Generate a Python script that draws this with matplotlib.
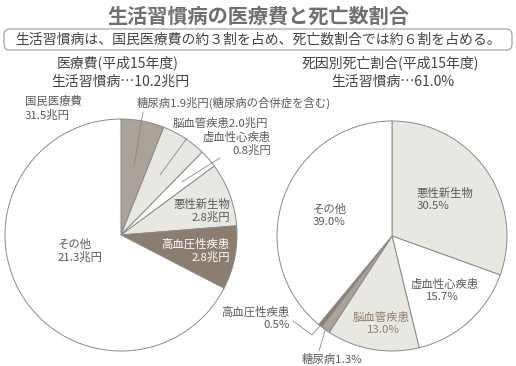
import numpy as np
import matplotlib
matplotlib.use("Agg")
import matplotlib.pyplot as plt
from matplotlib.patches import FancyBboxPatch

plt.rcParams['font.family'] = ['Noto Sans CJK JP', 'DejaVu Sans']

# Data
title = "生活習慣病の医療費と死亡数割合"
subtitle = "生活習慣病は、国民医療費の約３割を占め、死亡数割合では約６割を占める。"

left_title = "医療費(平成15年度)"
left_total_label = "国民医療費"
left_total = 31.5
left_lifestyle = 10.2
left_labels = ["糖尿病", "脳血管疾患", "虚血性心疾患", "悪性新生物", "高血圧性疾患", "その他"]
left_values = [1.9, 2.0, 0.8, 2.8, 2.8, 21.3]

right_title = "死因別死亡割合(平成15年度)"
right_lifestyle = 61.0
right_labels = ["悪性新生物", "虚血性心疾患", "脳血管疾患", "糖尿病", "高血圧性疾患", "その他"]
right_values = [30.5, 15.7, 13.0, 1.3, 0.5, 39.0]

W, H = 516, 366
LIGHT = "#e9e7e1"
MID = "#aba299"
DARK = "#8b7e71"
TXT = "#5a5a5a"

left_colors = [MID, LIGHT, "#ffffff", LIGHT, DARK, "#ffffff"]
right_colors = [LIGHT, "#ffffff", LIGHT, MID, DARK, "#ffffff"]


def fy(y):
    # image y (top-down) -> data y
    return H - y


fig = plt.figure(figsize=(W / 100, H / 100), dpi=100)
ax = fig.add_axes([0, 0, 1, 1])

wp = dict(edgecolor="#8a8a8a", linewidth=0.7)
lc, rc = (121, fy(235)), (392, fy(236))
lw, _ = ax.pie(left_values, colors=left_colors, startangle=90, counterclock=False,
               center=lc, radius=116, wedgeprops=wp)
rw, _ = ax.pie(right_values, colors=right_colors, startangle=90, counterclock=False,
               center=rc, radius=115, wedgeprops=wp)


def mid_point(w, frac):
    a = np.deg2rad((w.theta1 + w.theta2) / 2)
    return w.center[0] + w.r * frac * np.cos(a), w.center[1] + w.r * frac * np.sin(a)


ax.set_xlim(0, W)
ax.set_ylim(0, H)
ax.set_aspect("auto")
ax.axis("off")

# Title and subtitle
ax.text(W / 2, fy(16), title, ha="center", va="center", fontsize=14.5,
        fontweight="bold", color="#6f6f6f")
box = FancyBboxPatch((4, fy(50)), 508, 21, boxstyle="round,pad=0,rounding_size=6",
                     facecolor="white", edgecolor="#9a9a9a", linewidth=0.8)
ax.add_patch(box)
ax.text(258, fy(40), subtitle, ha="center", va="center", fontsize=10, color="#444444")

# Headings
ax.text(118, fy(63), left_title, ha="center", va="center", fontsize=10, color="#444444")
ax.text(120, fy(82), f"生活習慣病…{left_lifestyle}兆円", ha="center", va="center",
        fontsize=10, color="#444444")
ax.text(390, fy(63), right_title, ha="center", va="center", fontsize=10, color="#444444")
ax.text(393, fy(82), f"生活習慣病…{right_lifestyle}%", ha="center", va="center",
        fontsize=10, color="#444444")

fs = 8.2
# Left pie labels
ax.text(25, fy(102), left_total_label, ha="left", va="center", fontsize=fs, color=TXT)
ax.text(25, fy(115), f"{left_total}兆円", ha="left", va="center", fontsize=fs, color=TXT)
ax.text(137, fy(103), f"{left_labels[0]}{left_values[0]}兆円(糖尿病の合併症を含む)",
        ha="left", va="center", fontsize=fs, color=TXT)
ax.text(173, fy(123), f"{left_labels[1]}{left_values[1]}兆円", ha="left", va="center",
        fontsize=fs, color=TXT)
ax.text(271, fy(137), left_labels[2], ha="right", va="center", fontsize=fs, color=TXT)
ax.text(271, fy(150), f"{left_values[2]}兆円", ha="right", va="center", fontsize=fs, color=TXT)
ax.text(230, fy(204), left_labels[3], ha="right", va="center", fontsize=fs, color=TXT)
ax.text(230, fy(217), f"{left_values[3]}兆円", ha="right", va="center", fontsize=fs, color=TXT)
ax.text(230, fy(244), left_labels[4], ha="right", va="center", fontsize=fs, color="white")
ax.text(230, fy(257), f"{left_values[4]}兆円", ha="right", va="center", fontsize=fs, color="white")
ax.text(58, fy(244), left_labels[5], ha="left", va="center", fontsize=fs, color=TXT)
ax.text(58, fy(257), f"{left_values[5]}兆円", ha="left", va="center", fontsize=fs, color=TXT)

# Left leader lines
for w, start, frac in [(lw[0], (143, 112), 0.6), (lw[1], (187, 138), 0.62),
                       (lw[2], (220, 158), 0.7)]:
    x1, y1 = mid_point(w, frac)
    ax.plot([start[0], x1], [fy(start[1]), y1], color="#888888", linewidth=0.6)

# Right pie labels
ax.text(417, fy(193), right_labels[0], ha="left", va="center", fontsize=fs, color=TXT)
ax.text(417, fy(206), f"{right_values[0]}%", ha="left", va="center", fontsize=fs, color=TXT)
ax.text(445, fy(284), right_labels[1], ha="center", va="center", fontsize=fs, color=TXT)
ax.text(442, fy(297), f"{right_values[1]}%", ha="center", va="center", fontsize=fs, color=TXT)
ax.text(381, fy(317), right_labels[2], ha="center", va="center", fontsize=fs, color="#8f7f6f")
ax.text(383, fy(330), f"{right_values[2]}%", ha="center", va="center", fontsize=fs, color="#8f7f6f")
ax.text(313, fy(209), right_labels[5], ha="left", va="center", fontsize=fs, color=TXT)
ax.text(313, fy(222), f"{right_values[5]}%", ha="left", va="center", fontsize=fs, color=TXT)
ax.text(290, fy(312), right_labels[4], ha="right", va="center", fontsize=fs, color=TXT)
ax.text(290, fy(325), f"{right_values[4]}%", ha="right", va="center", fontsize=fs, color=TXT)
ax.text(302, fy(359), f"{right_labels[3]}{right_values[3]}%", ha="left", va="center",
        fontsize=fs, color=TXT)

# Right leader lines
x1, y1 = mid_point(rw[4], 1.0)
ax.plot([293, 312, x1], [fy(321), fy(335), y1], color="#888888", linewidth=0.6)
x1, y1 = mid_point(rw[3], 1.0)
ax.plot([319, x1], [fy(351), y1], color="#888888", linewidth=0.6)

fig.savefig("out.png", dpi=100)
